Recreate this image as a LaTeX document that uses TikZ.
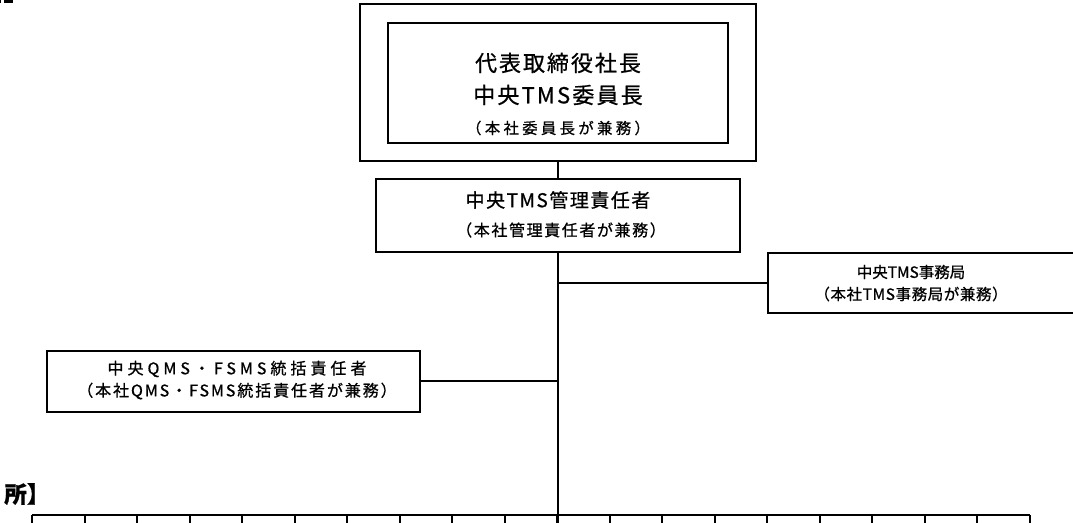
\documentclass[tikz,border=0pt]{standalone}
\usepackage{fontspec}
\setmainfont{Noto Sans CJK JP}
\usetikzlibrary{fit}
\newcommand\fsz[2]{\fontsize{#1}{#1}\selectfont\addfontfeatures{LetterSpace=#2,FakeBold=0.8}}
\begin{document}
\begin{tikzpicture}[x=0.75pt,y=-0.75pt,
  box/.style={draw, line width=1.2pt, inner sep=0pt},
  conn/.style={line width=1.5pt},
  lbl/.style={inner sep=0pt, anchor=center}]
\useasboundingbox (0,0) rectangle (1073,523);
% fragment of a heading bracket at the top left
\fill (4,0) rectangle (13,3);
\fill (0,0) rectangle (1,3);
% boxes
\node[box, line width=1.5pt, fit={(360,4) (756,161)}] (outer) {};
\node[box, fit={(388,23) (728,143)}] (chair) {};
\node[box, fit={(376,179) (740,252)}] (mgr) {};
\node[box, fit={(768,253) (1075,313)}] (secr) {};
\node[box, fit={(47,351) (420,412)}] (qms) {};
% texts
\node[lbl] (t1) at (558,63) {\fsz{16.5pt}{9}代表取締役社長};
\node[lbl] (t2) at (558,95) {\fsz{16.5pt}{10}中央TMS委員長};
\node[lbl] (t3) at (558,128) {\fsz{11.5pt}{22}（本社委員長が兼務）};
\node[lbl] (t4) at (558,200) {\fsz{14.25pt}{8}中央TMS管理責任者};
\node[lbl] (t5) at (561,230) {\fsz{12pt}{10}（本社管理責任者が兼務）};
\node[lbl] (t6) at (911,272) {\fsz{11.6pt}{0}中央TMS事務局};
\node[lbl] (t7) at (911,294) {\fsz{11.6pt}{4}（本社TMS事務局が兼務）};
\node[lbl] (t8) at (237,369) {\fsz{12pt}{25}中央QMS・FSMS統括責任者};
\node[lbl] (t9) at (237,391) {\fsz{12pt}{12}（本社QMS・FSMS統括責任者が兼務）};
\node[lbl, anchor=west] (head) at (4,494) {\fsz{17pt}{0}\bfseries 所】};
% connectors
\coordinate (trunk) at (558,524);
\draw[conn] (outer.south) -- (mgr.north);
\draw[conn] (mgr.south) -- (trunk);
\draw[conn] (secr.west) -- (secr.west -| mgr.south);
\draw[conn] (qms.east) -- (qms.east -| mgr.south);
\coordinate (bl) at (32,515);
\coordinate (br) at (1030,515);
\draw[conn] (bl) -- (br);
\foreach \k in {0,...,19}{
  \coordinate (tk\k) at ({32+52.526*\k},515);
  \draw[conn] (tk\k) -- ++(0,9);
}
\end{tikzpicture}
\end{document}
